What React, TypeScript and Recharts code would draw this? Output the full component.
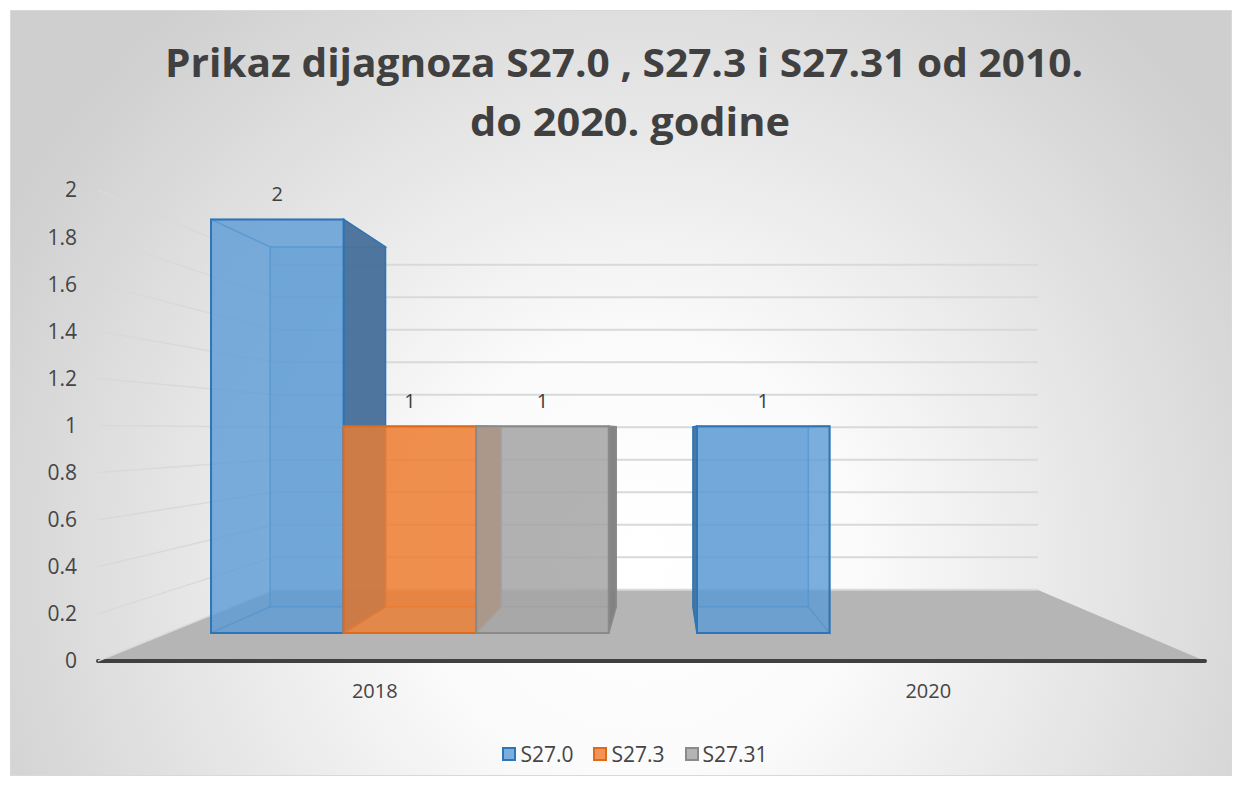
import { Bar, BarChart, CartesianGrid, LabelList, Legend, XAxis, YAxis } from "recharts";

const years = ["2018", "2020"];
const s270 = [2, 1];
const s273 = [1, null];
const s2731 = [1, null];
const yTicks = [0, 0.2, 0.4, 0.6, 0.8, 1, 1.2, 1.4, 1.6, 1.8, 2];

const data = years.map((year, i) => ({
  year,
  s270: s270[i],
  s273: s273[i],
  s2731: s2731[i],
}));

const FONT = "'Open Sans', 'Liberation Sans', sans-serif";
const TEXT = "#454545";

// perspective of the 3D look: vanishing point + depth scales
const VX = 666;
const VY = 431;
const WALL = 0.69;
const FRONT = 0.878;
const BACK = 0.764;
const proj = (x: number, y: number, s: number) => [VX + s * (x - VX), VY + s * (y - VY)];
const pts = (arr: number[][]) => arr.map((p) => p.join(",")).join(" ");

const PAL: Record<string, { base: string; dark: string; stroke: string; light: string }> = {
  "S27.0": { base: "#5B9BD5", dark: "#48709a", stroke: "#2E75B6", light: "#7aaedf" },
  "S27.3": { base: "#ED7D31", dark: "#c0601f", stroke: "#DE6A1C", light: "#f19455" },
  "S27.31": { base: "#A5A5A5", dark: "#7f7f7f", stroke: "#8a8a8a", light: "#b4b4b4" },
};

function Box3D(props: any) {
  const { x, y, width, height, pal } = props;
  if (!height || height <= 0) return null;
  const x0 = x, x1 = x + width, y0 = y, y1 = y + height;
  const f = [proj(x0, y0, FRONT), proj(x1, y0, FRONT), proj(x1, y1, FRONT), proj(x0, y1, FRONT)];
  const b = [proj(x0, y0, BACK), proj(x1, y0, BACK), proj(x1, y1, BACK), proj(x0, y1, BACK)];
  const rightVisible = x + width / 2 < VX;
  const side = rightVisible ? [f[1], b[1], b[2], f[2]] : [f[0], b[0], b[3], f[3]];
  const hidden = rightVisible ? [f[0], b[0], b[3], f[3]] : [f[1], b[1], b[2], f[2]];
  const edge = { fill: "none", stroke: pal.stroke, strokeOpacity: 0.45, strokeWidth: 1.5 };
  return (
    <g>
      <polygon points={pts(b)} fill={pal.base} fillOpacity={0.3} stroke={pal.stroke} strokeOpacity={0.45} strokeWidth={1.5} />
      <polygon points={pts([f[3], f[2], b[2], b[3]])} {...edge} />
      <polygon points={pts([f[0], f[1], b[1], b[0]])} {...edge} />
      <polygon points={pts(hidden)} {...edge} />
      <polygon points={pts(side)} fill={pal.dark} fillOpacity={0.95} stroke={pal.stroke} strokeWidth={1.5} />
      <polygon points={pts(f)} fill={pal.base} fillOpacity={0.8} stroke={pal.stroke} strokeWidth={2} />
    </g>
  );
}

const renderLabel = (p: any) => {
  const vb = p.viewBox || p;
  if (p.value == null) return null;
  const [lx, ly] = proj(vb.x + vb.width / 2, vb.y, FRONT);
  return (
    <text x={lx} y={ly - 18} textAnchor="middle" fontSize={20} fontFamily={FONT} fill="#404040">
      {p.value}
    </text>
  );
};

// side wall + back wall line for each y tick
const gridLine = (p: any) => {
  const [sx, sy] = proj(p.x1, p.y1, WALL);
  const [ex] = proj(p.x2, p.y1, WALL);
  return (
    <g key={p.key}>
      <line x1={p.x1} y1={p.y1} x2={sx} y2={sy} stroke="#d9d9d9" strokeWidth={1.5} />
      <line x1={sx} y1={sy} x2={ex} y2={sy} stroke="#d9d9d9" strokeWidth={2} />
    </g>
  );
};

const renderLegend = ({ payload }: any) => (
  <div
    style={{
      display: "flex",
      justifyContent: "center",
      gap: 20,
      paddingLeft: 30,
      fontFamily: FONT,
      fontSize: 21,
      color: TEXT,
    }}
  >
    {(payload || []).map((e: any) => (
      <span key={e.value} style={{ display: "flex", alignItems: "center" }}>
        <span
          style={{
            width: 10,
            height: 10,
            background: PAL[e.value].light,
            border: `2px solid ${PAL[e.value].stroke}`,
            marginRight: 4,
          }}
        />
        {e.value}
      </span>
    ))}
  </div>
);

export default function App() {
  return (
    <div style={{ position: "relative", width: 1240, height: 785, background: "#fff" }}>
      <style>{"body{margin:0}"}</style>
      <svg width={1240} height={785} style={{ position: "absolute", left: 0, top: 0 }}>
        <defs>
          <radialGradient id="bg" gradientUnits="userSpaceOnUse" cx={640} cy={560} r={720}>
            <stop offset="0" stopColor="#ffffff" />
            <stop offset="0.3" stopColor="#fbfbfb" />
            <stop offset="1" stopColor="#cfcfcf" />
          </radialGradient>
        </defs>
        <rect x={10.5} y={10.5} width={1221} height={765} fill="url(#bg)" stroke="#d9d9d9" />
        <text
          x={624}
          y={77}
          textAnchor="middle"
          fontFamily={FONT}
          fontWeight="bold"
          fontSize={40}
          fill="#404040"
          textLength={918}
          lengthAdjust="spacingAndGlyphs"
        >
          Prikaz dijagnoza S27.0 , S27.3 i S27.31 od 2010.
        </text>
        <text
          x={630}
          y={136}
          textAnchor="middle"
          fontFamily={FONT}
          fontWeight="bold"
          fontSize={40}
          fill="#404040"
          textLength={320}
          lengthAdjust="spacingAndGlyphs"
        >
          do 2020. godine
        </text>
        <polygon points="98,661 1205,661 1038,590 274,590" fill="#b5b5b5" />
        <line x1={98} y1={661} x2={1205} y2={661} stroke="#404040" strokeWidth={4} strokeLinecap="round" />
      </svg>
      <div style={{ position: "absolute", left: 0, top: 0 }}>
        <BarChart
          width={1240}
          height={785}
          data={data}
          margin={{ top: 190, right: 35, bottom: 84, left: 38 }}
          barCategoryGap="9%"
          barGap={0}
        >
          <CartesianGrid vertical={false} horizontal={gridLine} />
          <XAxis
            dataKey="year"
            height={40}
            axisLine={false}
            tickLine={false}
            tickMargin={17}
            tick={{ fill: TEXT, fontSize: 20, fontFamily: FONT }}
          />
          <YAxis
            width={60}
            domain={[0, 2]}
            ticks={yTicks}
            axisLine={false}
            tickLine={false}
            tickMargin={15}
            tick={{ fill: TEXT, fontSize: 21, fontFamily: FONT }}
          />
          <Legend
            verticalAlign="middle"
            content={renderLegend}
            wrapperStyle={{ top: 740, left: 0, width: 1240 }}
          />
          <Bar dataKey="s270" name="S27.0" fill="#5B9BD5" isAnimationActive={false}
            shape={(p: any) => <Box3D {...p} pal={PAL["S27.0"]} />}>
            <LabelList dataKey="s270" content={renderLabel} />
          </Bar>
          <Bar dataKey="s273" name="S27.3" fill="#ED7D31" isAnimationActive={false}
            shape={(p: any) => <Box3D {...p} pal={PAL["S27.3"]} />}>
            <LabelList dataKey="s273" content={renderLabel} />
          </Bar>
          <Bar dataKey="s2731" name="S27.31" fill="#A5A5A5" isAnimationActive={false}
            shape={(p: any) => <Box3D {...p} pal={PAL["S27.31"]} />}>
            <LabelList dataKey="s2731" content={renderLabel} />
          </Bar>
        </BarChart>
      </div>
    </div>
  );
}
